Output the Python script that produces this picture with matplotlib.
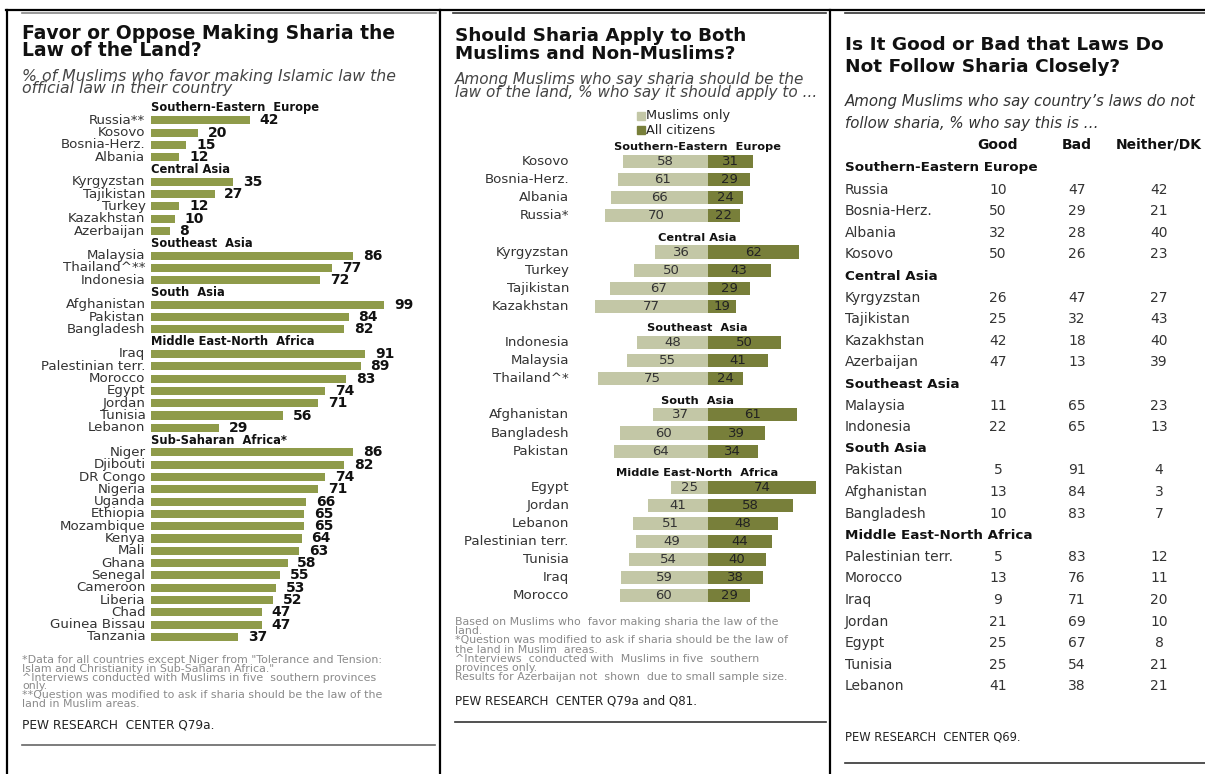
import matplotlib.pyplot as plt
from matplotlib.transforms import Affine2D, blended_transform_factory
from matplotlib.patches import Rectangle
from matplotlib.lines import Line2D

plt.rcParams['font.family'] = 'DejaVu Sans'

W, H = 1205, 774

# ---------------- data: favor sharia as law of the land ----------------
fav_regions = ["Southern-Eastern  Europe", "Central Asia", "Southeast  Asia",
               "South  Asia", "Middle East-North  Africa", "Sub-Saharan  Africa*"]
fav_countries = [
    ["Russia**", "Kosovo", "Bosnia-Herz.", "Albania"],
    ["Kyrgyzstan", "Tajikistan", "Turkey", "Kazakhstan", "Azerbaijan"],
    ["Malaysia", "Thailand^**", "Indonesia"],
    ["Afghanistan", "Pakistan", "Bangladesh"],
    ["Iraq", "Palestinian terr.", "Morocco", "Egypt", "Jordan", "Tunisia", "Lebanon"],
    ["Niger", "Djibouti", "DR Congo", "Nigeria", "Uganda", "Ethiopia", "Mozambique",
     "Kenya", "Mali", "Ghana", "Senegal", "Cameroon", "Liberia", "Chad",
     "Guinea Bissau", "Tanzania"],
]
fav_values = [
    [42, 20, 15, 12],
    [35, 27, 12, 10, 8],
    [86, 77, 72],
    [99, 84, 82],
    [91, 89, 83, 74, 71, 56, 29],
    [86, 82, 74, 71, 66, 65, 65, 64, 63, 58, 55, 53, 52, 47, 47, 37],
]

# ---------------- data: apply to muslims only / all citizens ----------------
apply_regions = ["Southern-Eastern  Europe", "Central Asia", "Southeast  Asia",
                 "South  Asia", "Middle East-North  Africa"]
apply_countries = [
    ["Kosovo", "Bosnia-Herz.", "Albania", "Russia*"],
    ["Kyrgyzstan", "Turkey", "Tajikistan", "Kazakhstan"],
    ["Indonesia", "Malaysia", "Thailand^*"],
    ["Afghanistan", "Bangladesh", "Pakistan"],
    ["Egypt", "Jordan", "Lebanon", "Palestinian terr.", "Tunisia", "Iraq", "Morocco"],
]
muslims_only = [
    [58, 61, 66, 70],
    [36, 50, 67, 77],
    [48, 55, 75],
    [37, 60, 64],
    [25, 41, 51, 49, 54, 59, 60],
]
all_citizens = [
    [31, 29, 24, 22],
    [62, 43, 29, 19],
    [50, 41, 24],
    [61, 39, 34],
    [74, 58, 48, 44, 40, 38, 29],
]

# ---------------- data: good or bad table ----------------
tbl_columns = ["Good", "Bad", "Neither/DK"]
tbl_regions = ["Southern-Eastern Europe", "Central Asia", "Southeast Asia",
               "South Asia", "Middle East-North Africa"]
tbl_countries = [
    ["Russia", "Bosnia-Herz.", "Albania", "Kosovo"],
    ["Kyrgyzstan", "Tajikistan", "Kazakhstan", "Azerbaijan"],
    ["Malaysia", "Indonesia"],
    ["Pakistan", "Afghanistan", "Bangladesh"],
    ["Palestinian terr.", "Morocco", "Iraq", "Jordan", "Egypt", "Tunisia", "Lebanon"],
]
tbl_good = [[10, 50, 32, 50], [26, 25, 42, 47], [11, 22], [5, 13, 10],
            [5, 13, 9, 21, 25, 25, 41]]
tbl_bad = [[47, 29, 28, 26], [47, 32, 18, 13], [65, 65], [91, 84, 83],
           [83, 76, 71, 69, 67, 54, 38]]
tbl_neither = [[42, 21, 40, 23], [27, 43, 40, 39], [23, 13], [4, 3, 7],
               [12, 11, 20, 10, 8, 21, 21]]

olive = "#8f9b4a"
light = "#c3c7a6"
dark = "#787f3a"
txt = "#333333"
grey = "#8a8a8a"

fig = plt.figure(figsize=(W / 100, H / 100), dpi=100)
px = Affine2D().scale(1 / W, -1 / H).translate(0, 1) + fig.transFigure


def axes_px(x0, y0, x1, y1):
    ax = fig.add_axes([x0 / W, 1 - y1 / H, (x1 - x0) / W, (y1 - y0) / H])
    ax.axis('off')
    return ax


def line(x0, x1, y0, y1, color, lw):
    fig.add_artist(Line2D([x0, x1], [y0, y1], transform=px, color=color, lw=lw))


def put(x, y, s, **kw):
    fig.text(x, y, s, transform=px, **kw)


# frame
line(6, W, 9.5, 9.5, "black", 1.6)
for xv in (7, 439.5, 829.5):
    line(xv, xv, 9.5, H, "black", 1.6)
line(22, 436, 12.5, 12.5, "#888888", 1.2)
line(453, 826, 12.5, 12.5, "#333333", 1.2)
line(845, W, 13, 13, "#333333", 1.2)
line(22, 435, 745, 745, "#666666", 1.2)
line(455, 826, 722, 722, "#333333", 1.2)
line(845, W, 763, 763, "#333333", 1.2)

# ================= panel 1 =================
# multi-line blocks: y is the baseline of the last line
put(22, 55.5, "Favor or Oppose Making Sharia the\nLaw of the Land?", fontsize=13.5,
    fontweight='bold', color="#111111", linespacing=0.81, va='baseline')
put(22, 93, "% of Muslims who favor making Islamic law the\nofficial law in their country",
    fontsize=11.3, style='italic', color="#444444", linespacing=0.77, va='baseline')

pitch1 = 12.3
scale1 = 2.354
ax1 = axes_px(151, 108 - 0.5 * pitch1, 151 + 100 * scale1, 108 + 43.5 * pitch1)
ax1.set_xlim(0, 100)
ax1.set_ylim(43.5, -0.5)
row = 0
for reg, names, vals in zip(fav_regions, fav_countries, fav_values):
    ax1.text(0, row, reg, fontsize=8.3, fontweight='bold', va='center', ha='left', color="#111111")
    row += 1
    for n, v in zip(names, vals):
        ax1.barh(row, v, height=0.66, color=olive)
        ax1.annotate(n, (0, row), xytext=(-4, 0), textcoords='offset points',
                     ha='right', va='center', fontsize=9.6, color=txt)
        ax1.annotate(str(v), (v, row), xytext=(7, 0), textcoords='offset points',
                     ha='left', va='center', fontsize=10, fontweight='bold', color="#111111")
        row += 1

notes1 = ['*Data for all countries except Niger from "Tolerance and Tension:',
          'Islam and Christianity in Sub-Saharan Africa."',
          '^Interviews conducted with Muslims in five  southern provinces',
          'only.',
          '**Question was modified to ask if sharia should be the law of the',
          'land in Muslim areas.']
put(22, 655, "\n".join(notes1), fontsize=7.9, color=grey, linespacing=0.85, va='top')
put(22, 728, "PEW RESEARCH  CENTER Q79a.", fontsize=8.7, color="#222222")

# ================= panel 2 =================
put(455, 59, "Should Sharia Apply to Both\nMuslims and Non-Muslims?", fontsize=13.2,
    fontweight='bold', color="#111111", linespacing=1.0, va='baseline')
put(455, 97.5, "Among Muslims who say sharia should be the\nlaw of the land, % who say it should apply to ...",
    fontsize=11, style='italic', color="#444444", linespacing=0.91, va='baseline')

fig.add_artist(Rectangle((637, 112), 8, 8, transform=px, color=light))
fig.add_artist(Rectangle((637, 126), 8, 8, transform=px, color=dark))
put(646, 116, "Muslims only", fontsize=9.3, va='center', color="#222222")
put(646, 130, "All citizens", fontsize=9.3, va='center', color="#222222")

pitch2 = 18.1
scale2 = 1.465
zero2 = 707.7
y0_2 = 161.5
ax2 = axes_px(zero2 - 95 * scale2, y0_2 - 2 * pitch2, zero2 + 85 * scale2, y0_2 + 25 * pitch2)
ax2.set_xlim(-95, 85)
ax2.set_ylim(25, -2)
lab2 = blended_transform_factory(px, ax2.transData)
row = 0
for reg, names, m_vals, a_vals in zip(apply_regions, apply_countries, muslims_only, all_citizens):
    ax2.text(-7, row - 0.78, reg, fontsize=8.2, fontweight='bold', ha='center', va='center', color="#111111")
    for n, m, a in zip(names, m_vals, a_vals):
        ax2.barh(row, -m, height=0.72, color=light)
        ax2.barh(row, a, height=0.72, color=dark)
        ax2.text(-m / 2, row, str(m), ha='center', va='center', fontsize=9.5, color=txt)
        ax2.text(a / 2, row, str(a), ha='center', va='center', fontsize=9.5, color="#222222")
        ax2.text(569, row, n, transform=lab2, ha='right', va='center', fontsize=9.6, color=txt)
        row += 1
    row += 1

notes2 = ['Based on Muslims who  favor making sharia the law of the',
          'land.',
          '*Question was modified to ask if sharia should be the law of',
          'the land in Muslim  areas.',
          '^Interviews  conducted with  Muslims in five  southern',
          'provinces only.',
          'Results for Azerbaijan not  shown  due to small sample size.']
put(455, 617, "\n".join(notes2), fontsize=7.9, color=grey, linespacing=0.9, va='top')
put(455, 705, "PEW RESEARCH  CENTER Q79a and Q81.", fontsize=8.6, color="#222222")

# ================= panel 3 =================
put(845, 72, "Is It Good or Bad that Laws Do\nNot Follow Sharia Closely?", fontsize=13.3,
    fontweight='bold', color="#111111", linespacing=1.25, va='baseline')
put(845, 128, "Among Muslims who say country\u2019s laws do not\nfollow sharia, % who say this is \u2026",
    fontsize=10.8, style='italic', color="#333333", linespacing=1.61, va='baseline')

col_x = [998, 1077, 1159]
for cx, c in zip(col_x, tbl_columns):
    put(cx, 145, c, fontsize=10, fontweight='bold', ha='center', va='center', color="#111111")

pitch3 = 21.6
r = 0
for reg, names, g, b, n3 in zip(tbl_regions, tbl_countries, tbl_good, tbl_bad, tbl_neither):
    put(845, 168 + r * pitch3, reg, fontsize=9.7, fontweight='bold', va='center', color="#111111")
    r += 1
    for i, nm in enumerate(names):
        yy = 168 + r * pitch3
        put(845, yy, nm, fontsize=10, va='center', color=txt)
        for cx, v in zip(col_x, (g[i], b[i], n3[i])):
            put(cx, yy, str(v), fontsize=10, ha='center', va='center', color=txt)
        r += 1

put(845, 740, "PEW RESEARCH  CENTER Q69.", fontsize=8.3, color="#222222")

fig.savefig("out.png", dpi=100)
